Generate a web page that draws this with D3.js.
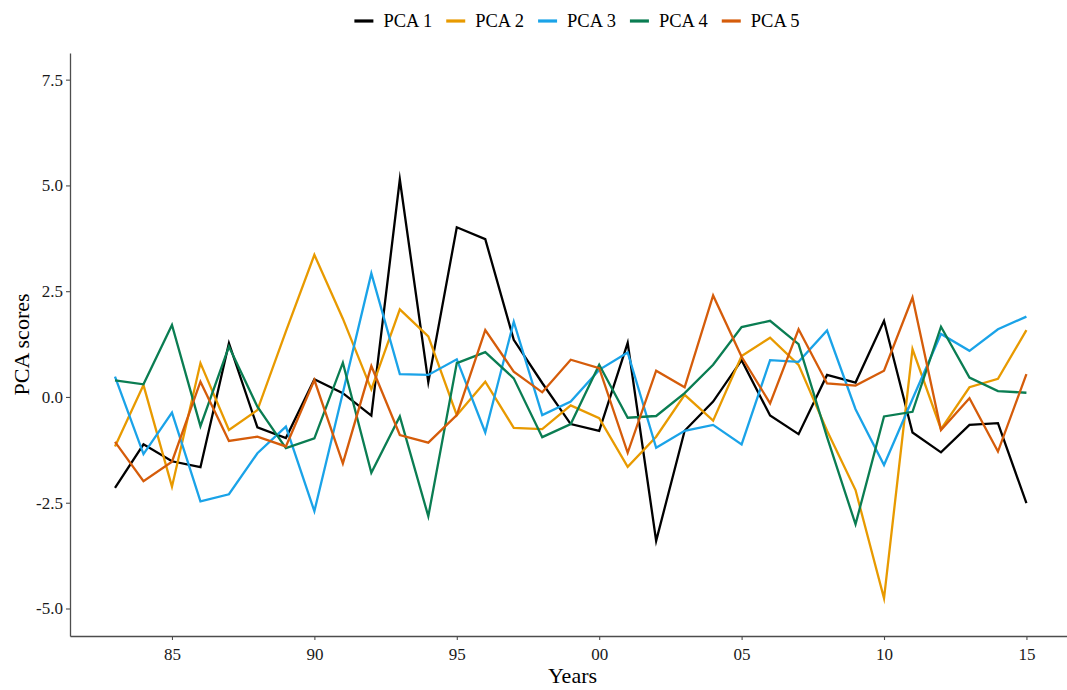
<!DOCTYPE html>
<html>
<head>
<meta charset="utf-8">
<script src="https://cdn.jsdelivr.net/npm/d3@7"></script>
<style>
  html, body { margin: 0; padding: 0; background: #ffffff; }
  svg { display: block; font-family: "Liberation Serif", "Times New Roman", serif; }
  svg text { font-family: "Liberation Serif", "Times New Roman", serif; }
</style>
</head>
<body>
<svg id="chart" width="1067" height="690"></svg>
<script>
// Years of observation (1983-2015)
const years = [1983, 1984, 1985, 1986, 1987, 1988, 1989, 1990, 1991, 1992, 1993,
               1994, 1995, 1996, 1997, 1998, 1999, 2000, 2001, 2002, 2003, 2004,
               2005, 2006, 2007, 2008, 2009, 2010, 2011, 2012, 2013, 2014, 2015];

const seriesNames = ["PCA 1", "PCA 2", "PCA 3", "PCA 4", "PCA 5"];
const seriesColors = ["#000000", "#E89A00", "#1AA3E8", "#0A7D52", "#D55C0A"];

const pca1 = [-2.15, -1.12, -1.52, -1.66, 1.27, -0.72, -0.97, 0.42, 0.09, -0.44, 5.14,
              0.35, 4.01, 3.73, 1.35, 0.33, -0.64, -0.80, 1.28, -3.40, -0.80, -0.11,
              0.87, -0.44, -0.88, 0.52, 0.34, 1.80, -0.84, -1.31, -0.66, -0.62, -2.51];
const pca2 = [-1.17, 0.28, -2.12, 0.80, -0.78, -0.31, 1.55, 3.36, 1.85, 0.18, 2.07,
              1.43, -0.43, 0.36, -0.73, -0.76, -0.20, -0.50, -1.65, -0.94, 0.05, -0.56,
              0.97, 1.40, 0.76, -0.80, -2.20, -4.76, 1.13, -0.76, 0.23, 0.43, 1.58];
const pca3 = [0.48, -1.35, -0.37, -2.47, -2.30, -1.33, -0.70, -2.70, 0.10, 2.92, 0.54,
              0.52, 0.89, -0.84, 1.78, -0.43, -0.11, 0.64, 1.05, -1.20, -0.80, -0.66,
              -1.12, 0.87, 0.83, 1.57, -0.29, -1.61, -0.05, 1.49, 1.09, 1.60, 1.90];
const pca4 = [0.39, 0.30, 1.70, -0.69, 1.19, -0.23, -1.21, -0.98, 0.81, -1.79, -0.46,
              -2.82, 0.80, 1.06, 0.44, -0.95, -0.64, 0.76, -0.49, -0.45, 0.09, 0.76,
              1.65, 1.80, 1.25, -0.95, -3.01, -0.46, -0.35, 1.66, 0.46, 0.14, 0.10];
const pca5 = [-1.06, -1.99, -1.53, 0.36, -1.04, -0.94, -1.17, 0.40, -1.57, 0.73, -0.90,
              -1.08, -0.43, 1.58, 0.60, 0.11, 0.88, 0.68, -1.32, 0.62, 0.23, 2.40,
              0.95, -0.15, 1.60, 0.32, 0.27, 0.62, 2.35, -0.78, -0.03, -1.29, 0.54];

// Axis ticks
const xTickValues = [1985, 1990, 1995, 2000, 2005, 2010, 2015];
const xTickLabels = ["85", "90", "95", "00", "05", "10", "15"];
const yTickValues = [-5, -2.5, 0, 2.5, 5, 7.5];
const yTickLabels = ["-5.0", "-2.5", "0.0", "2.5", "5.0", "7.5"];

const allSeries = [pca1, pca2, pca3, pca4, pca5];
const serif = "'Liberation Serif', 'Times New Roman', serif";

const svg = d3.select("#chart");
const panel = { left: 70, right: 1072, top: 53, bottom: 636 };

const x = d3.scaleLinear().domain([1981.42, 2016.6]).range([panel.left, panel.right]);
const y = d3.scaleLinear().domain([-5.65, 8.13]).range([panel.bottom, panel.top]);

// Axes
const xAxis = d3.axisBottom(x)
  .tickValues(xTickValues)
  .tickFormat((d, i) => xTickLabels[i])
  .tickSizeOuter(0)
  .tickSizeInner(4)
  .tickPadding(5);
const yAxis = d3.axisLeft(y)
  .tickValues(yTickValues)
  .tickFormat((d, i) => yTickLabels[i])
  .tickSizeOuter(0)
  .tickSizeInner(4)
  .tickPadding(3);

const gx = svg.append("g")
  .attr("transform", `translate(0,${panel.bottom})`)
  .call(xAxis);
const gy = svg.append("g")
  .attr("transform", `translate(${panel.left},0)`)
  .call(yAxis);

[gx, gy].forEach(g => {
  g.attr("font-family", serif).attr("font-size", 17);
  g.select(".domain").attr("stroke", "#4d4d4d").attr("stroke-width", 1.3);
  g.selectAll(".tick line").attr("stroke", "#4d4d4d").attr("stroke-width", 1.1);
  g.selectAll(".tick text")
    .attr("fill", "#1a1a1a")
    .attr("font-family", serif)
    .style("font-size", "17px");
});
gx.selectAll(".tick text").attr("dy", "0.9em");

// Axis titles
svg.append("text")
  .attr("x", (panel.left + 1067) / 2 + 4)
  .attr("y", 683)
  .attr("text-anchor", "middle")
  .attr("font-family", serif)
  .style("font-size", "22px")
  .attr("fill", "#000")
  .text("Years");

svg.append("text")
  .attr("transform", `translate(29,${(panel.top + panel.bottom) / 2}) rotate(-90)`)
  .attr("text-anchor", "middle")
  .attr("font-family", serif)
  .style("font-size", "22px")
  .attr("fill", "#000")
  .text("PCA scores");

// Lines
const line = d3.line()
  .x((d, i) => x(years[i]))
  .y(d => y(d));

const plot = svg.append("g");
allSeries.forEach((s, k) => {
  plot.append("path")
    .datum(s)
    .attr("fill", "none")
    .attr("stroke", seriesColors[k])
    .attr("stroke-width", 2.3)
    .attr("stroke-linejoin", "miter")
    .attr("stroke-miterlimit", 10)
    .attr("d", line);
});

// Legend
const legend = svg.append("g");
const keyW = 19, keyGap = 10, itemGap = 14;
let cursor = 0;
seriesNames.forEach((name, k) => {
  const item = legend.append("g").attr("transform", `translate(${cursor},0)`);
  item.append("line")
    .attr("x1", 0).attr("x2", keyW)
    .attr("y1", 0).attr("y2", 0)
    .attr("stroke", seriesColors[k])
    .attr("stroke-width", 3.2);
  const t = item.append("text")
    .attr("x", keyW + keyGap)
    .attr("y", 0)
    .attr("dy", "0.35em")
    .attr("font-family", serif)
    .style("font-size", "18.5px")
    .attr("fill", "#000")
    .text(name);
  cursor += keyW + keyGap + t.node().getComputedTextLength() + itemGap;
});
const legendWidth = cursor - itemGap;
legend.attr("transform", `translate(${577 - legendWidth / 2},21)`);
</script>
</body>
</html>
